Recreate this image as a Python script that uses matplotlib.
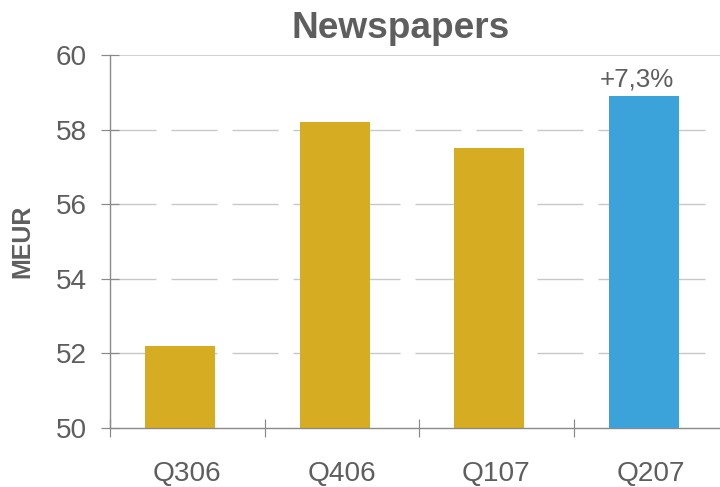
import matplotlib.pyplot as plt
import numpy as np

quarters = ["Q306", "Q406", "Q107", "Q207"]
revenue = [52.2, 58.2, 57.5, 58.9]
bar_colors = ["#D6AD22", "#D6AD22", "#D6AD22", "#3BA3D9"]
growth_label = "+7,3%"
y_ticks = [50, 52, 54, 56, 58, 60]

TEXT = "#5E5E5E"
AXIS = "#8A8A8A"
GRID = "#C8C8C8"

plt.rcParams["font.family"] = ["Liberation Sans", "DejaVu Sans"]
plt.rcParams["lines.scale_dashes"] = False

fig = plt.figure(figsize=(10, 487 / 72), dpi=72)
ax = fig.add_axes([110 / 720, 59 / 487, 610 / 720, 373 / 487])

x = np.arange(len(quarters))
ax.bar(x - 0.045, revenue, width=0.453, color=bar_colors, zorder=3)

ax.set_xlim(-0.5, 3.448)
ax.set_ylim(y_ticks[0], y_ticks[-1])

# dashed grid inside, solid line along the top
for y in y_ticks[1:-1]:
    ax.axhline(y, color=GRID, lw=1.4, linestyle=(0, (46, 15)), zorder=1)
ax.axhline(y_ticks[-1], color=GRID, lw=1.6, zorder=1)

for side in ("top", "right"):
    ax.spines[side].set_visible(False)
for side in ("left", "bottom"):
    ax.spines[side].set_color(AXIS)
    ax.spines[side].set_linewidth(1.4)
    ax.spines[side].set_zorder(4)

ax.set_yticks(y_ticks)
ax.tick_params(axis="y", direction="inout", length=18, width=1.2, color=AXIS,
               labelsize=28, labelcolor=TEXT, pad=14)

ax.set_xticks(x)
ax.set_xticklabels(quarters)
ax.set_xticks(np.arange(-0.5, len(quarters) - 1), minor=True)
ax.tick_params(axis="x", which="major", length=0, labelsize=28,
               labelcolor=TEXT, pad=33)
ax.tick_params(axis="x", which="minor", direction="inout", length=18,
               width=1.2, color=AXIS)

ax.set_ylabel("MEUR", fontsize=25, fontweight="bold", color=TEXT)
ax.yaxis.set_label_coords(-76 / 610, 0.501)

ax.annotate(growth_label, (x[-1] - 0.045, revenue[-1]), xytext=(-7, 10),
            textcoords="offset points", ha="center", va="baseline",
            fontsize=26, color=TEXT)

fig.text(401 / 720, 1 - 38 / 487, "Newspapers", ha="center", va="baseline",
         fontsize=37, fontweight="bold", color=TEXT)

fig.savefig("out.png", dpi=72)
